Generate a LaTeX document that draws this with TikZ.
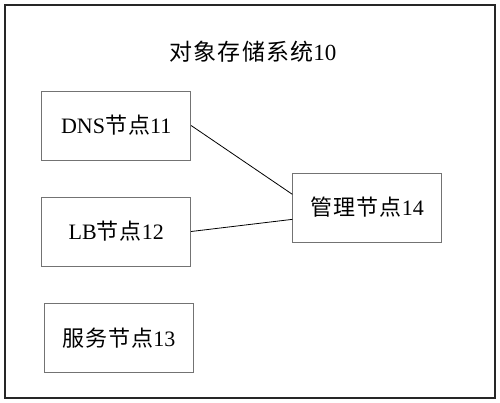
\documentclass[tikz,border=0pt]{standalone}
\usepackage{fontspec}
\setmainfont{Liberation Serif}
\newfontfamily\cjk{Noto Sans CJK SC}[LetterSpace=5]
\newcommand{\zh}[1]{{\cjk #1}}
\begin{document}
\begin{tikzpicture}[x=1pt,y=-1pt,
    nodebox/.style={draw=black!55,line width=0.8pt,minimum width=149pt,minimum height=69pt,inner sep=0pt,font=\fontsize{22}{26}\selectfont},
    frame/.style={draw=black!85,line width=1.3pt,minimum width=490pt,minimum height=393pt,inner sep=0pt}]
    \useasboundingbox (0,0) rectangle (500,403);
    \node[frame] (sys) at (250,201.5) {};
    \node[font=\fontsize{23}{27}\selectfont] (title) at (253,52) {\zh{对象存储系统}10};
    \node[nodebox] (dns) at (116.2,125.5) {DNS\zh{节点}11};
    \node[nodebox] (lb) at (116.2,231.5) {LB\zh{节点}12};
    \node[nodebox] (srv) at (118.8,338) {\zh{服务节点}13};
    \node[nodebox] (mgmt) at (367.2,207.5) {\zh{管理节点}14};
    \draw[line width=0.8pt] (dns.east) -- (mgmt.170);
    \draw[line width=0.8pt] (lb.east) -- (mgmt.189);
\end{tikzpicture}
\end{document}
